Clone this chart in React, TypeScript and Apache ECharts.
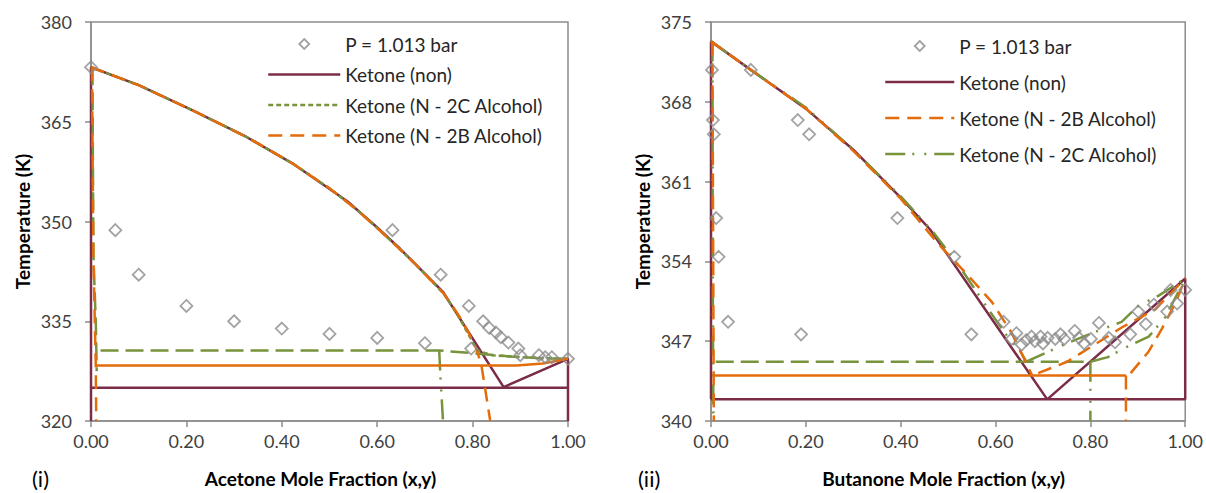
import React, { useEffect, useRef } from 'react';
import * as echarts from 'echarts';

type Pt = [number, number];

// ---------- ticks ----------
const xTickValues = [0, 0.2, 0.4, 0.6, 0.8, 1.0];
const leftYTicks = [320, 335, 350, 365, 380];
const rightYTicks = [340, 347, 354, 361, 368, 375];

// ---------- legend / labels ----------
const expName = 'P = 1.013 bar';
const nonName = 'Ketone (non)';
const twoCName = 'Ketone (N - 2C Alcohol)';
const twoBName = 'Ketone (N - 2B Alcohol)';
const leftXName = 'Acetone Mole Fraction (x,y)';
const rightXName = 'Butanone Mole Fraction (x,y)';
const yName = 'Temperature (K)';

// ---------- (i) Acetone ----------
const leftExp: Pt[] = [
  [0.0, 373.2], [0.051, 348.7], [0.10, 342.0], [0.20, 337.3], [0.30, 335.0],
  [0.40, 333.9], [0.50, 333.1], [0.60, 332.5], [0.70, 331.7], [0.632, 348.7],
  [0.733, 342.0], [0.792, 337.3], [0.797, 330.9], [0.822, 335.0], [0.835, 334.0],
  [0.849, 333.3], [0.859, 332.6], [0.875, 331.8], [0.896, 330.9], [0.90, 329.9],
  [0.939, 329.9], [0.952, 329.6], [0.966, 329.6], [1.0, 329.35],
];
const leftNon: Pt[] = [
  [0, 320], [0, 373.2], [0.1, 370.5], [0.212, 366.75], [0.325, 362.75], [0.422, 358.75],
  [0.538, 353.0], [0.6, 349.1], [0.648, 345.9], [0.738, 339.4], [0.865, 325.1],
  [1, 329.35], [1, 320],
];
const leftNonTie: Pt[] = [[0, 325.0], [1, 325.0]];
const leftGreenDew: Pt[] = [
  [0, 373.2], [0.1, 370.5], [0.212, 366.75], [0.325, 362.75], [0.422, 358.75],
  [0.5, 355.0], [0.56, 351.6], [0.62, 347.7], [0.68, 343.6], [0.74, 339.1],
  [0.765, 336.4], [0.797, 332.3], [0.81, 330.6], [0.84, 329.9], [0.9, 329.6],
  [0.95, 329.45], [1, 329.35],
];
const leftGreenWall: Pt[] = [[0.003, 373.2], [0.005, 345], [0.01, 335], [0.012, 327.5]];
const leftGreenTie: Pt[] = [[0.02, 330.6], [0.73, 330.6], [0.8, 330.2], [0.88, 329.7], [0.95, 329.4], [1, 329.35]];
const leftGreenLLE: Pt[] = [[0.73, 330.6], [0.733, 326], [0.738, 320]];
const leftOrangeDew: Pt[] = [
  [0, 373.2], [0.1, 370.5], [0.212, 366.75], [0.325, 362.75], [0.422, 358.75],
  [0.5, 355.0], [0.56, 351.6], [0.62, 347.7], [0.68, 343.6], [0.74, 339.1],
  [0.77, 336.0], [0.79, 333.5], [0.807, 331.0], [0.818, 328.6], [0.837, 320],
];
const leftOrangeWall: Pt[] = [[0.002, 373.2], [0.005, 345], [0.008, 335], [0.01, 328.35], [0.011, 320]];
const leftOrangeTie: Pt[] = [[0.01, 328.35], [0.892, 328.35], [0.947, 328.65], [1, 329.35]];

// ---------- (ii) Butanone ----------
const rightExp: Pt[] = [
  [0.002, 370.8], [0.084, 370.8], [0.004, 366.4], [0.006, 365.15], [0.183, 366.4],
  [0.207, 365.15], [0.011, 357.8], [0.393, 357.8], [0.016, 354.4], [0.513, 354.4],
  [0.036, 348.7], [0.19, 347.6], [0.549, 347.6], [0.617, 348.7], [0.644, 347.7],
  [0.634, 347.2], [0.655, 346.7], [0.665, 347.1], [0.676, 347.4], [0.683, 347.0],
  [0.695, 347.4], [0.700, 346.8], [0.710, 347.3], [0.726, 347.2], [0.737, 347.6],
  [0.745, 347.2], [0.767, 347.9], [0.776, 347.3], [0.787, 346.8], [0.801, 347.2],
  [0.818, 348.6], [0.839, 347.3], [0.852, 346.9], [0.884, 347.6], [0.901, 349.6],
  [0.917, 348.5], [0.934, 350.2], [0.962, 349.6], [0.969, 351.5], [0.983, 350.3],
  [1.0, 351.5],
];
const rightNon: Pt[] = [
  [0, 341.9], [0, 373.3], [0.084, 370.8], [0.2, 367.4], [0.3, 363.8], [0.4, 359.6],
  [0.462, 356.8], [0.709, 341.9], [1, 352.5], [1, 341.9], [0, 341.9],
];
const rightOrangeDew: Pt[] = [
  [0, 373.3], [0.084, 370.8], [0.2, 367.4], [0.3, 363.7], [0.4, 359.5], [0.48, 355.5],
  [0.537, 353.0], [0.593, 350.4], [0.633, 347.8], [0.653, 346.1], [0.677, 344.0],
];
const rightOrangeWall: Pt[] = [[0.003, 373.3], [0.005, 350], [0.006, 340]];
const rightOrangeTie: Pt[] = [[0.006, 344.0], [0.875, 344.0]];
const rightOrangeLLE: Pt[] = [[0.875, 344.0], [0.875, 340]];
const rightOrangeUpper: Pt[] = [[0.69, 344.2], [0.751, 345.2], [0.809, 346.7], [0.866, 348.2], [0.937, 349.8], [1, 352.5]];
const rightOrangeLower: Pt[] = [[0.885, 344.2], [0.923, 346.1], [0.951, 348.1], [0.98, 350.4], [1, 352.5]];
const rightGreenDew: Pt[] = [
  [0, 373.3], [0.084, 370.8], [0.2, 367.5], [0.3, 363.8], [0.4, 359.7], [0.47, 356.5],
  [0.53, 353.2], [0.58, 350.1], [0.62, 347.7], [0.651, 346.2], [0.665, 345.2],
];
const rightGreenWall: Pt[] = [[0.003, 373.3], [0.004, 350], [0.005, 340]];
const rightGreenTie: Pt[] = [[0.01, 345.2], [0.80, 345.2]];
const rightGreenLLE: Pt[] = [[0.80, 345.2], [0.80, 340]];
const rightGreenUpper: Pt[] = [[0.665, 345.2], [0.686, 345.6], [0.744, 346.7], [0.809, 347.8], [0.866, 348.7], [0.901, 350.1], [0.944, 351.0], [1, 352.5]];
const rightGreenLower: Pt[] = [[0.80, 345.2], [0.837, 345.6], [0.872, 346.4], [0.923, 347.4], [0.958, 349.1], [1, 352.5]];

// ---------- styles ----------
const MAROON = '#7B2C48';
const ORANGE = '#E46C0A';
const GREEN = '#77933C';
const GRAY = '#8c8c8c';
const FONT = 'Lato, "Open Sans", sans-serif';
const LONG_DASH = [14, 8];
const SHORT_DASH = [5, 3];
const GREEN_LONG = [18, 7];
const DASH_DOT_DOT = [20, 7, 2, 10, 2, 8];

function diamondIcon(w: number): string {
  const c = w / 2;
  const svg = `<svg xmlns="http://www.w3.org/2000/svg" width="${w}" height="12" viewBox="0 0 ${w} 12">` +
    `<path d="M${c} 1 L${c + 5} 6 L${c} 11 L${c - 5} 6 Z" fill="none" stroke="${GRAY}" stroke-width="1.8"/></svg>`;
  return 'image://data:image/svg+xml;charset=utf-8,' + encodeURIComponent(svg);
}

function lineSeries(name: string, data: Pt[], color: string, type: any, grid: number, width = 2.5) {
  return {
    type: 'line',
    name,
    data,
    xAxisIndex: grid,
    yAxisIndex: grid,
    symbol: 'none',
    showSymbol: false,
    silent: true,
    lineStyle: { color, width, type, cap: 'butt' },
    itemStyle: { color },
    z: 2,
  };
}

function scatterSeries(data: Pt[], grid: number) {
  return {
    type: 'scatter',
    name: expName,
    data,
    xAxisIndex: grid,
    yAxisIndex: grid,
    symbol: 'diamond',
    symbolSize: 12,
    silent: true,
    itemStyle: { color: 'rgba(255,255,255,0)', borderColor: GRAY, borderWidth: 1.8 },
    z: 5,
  };
}

function xAxis(grid: number, name: string, shift: number) {
  return {
    gridIndex: grid,
    type: 'value',
    min: 0,
    max: 1,
    interval: 0.2,
    name,
    nameLocation: 'middle',
    nameGap: 48,
    nameTextStyle: {
      fontFamily: FONT, fontWeight: 'bold', fontSize: 19, color: '#000',
      padding: [0, shift, 0, 0],
    },
    axisLine: { show: true, lineStyle: { color: GRAY, width: 1.5 } },
    axisTick: { show: true, length: 6, lineStyle: { color: GRAY, width: 1.5 } },
    axisLabel: {
      fontFamily: FONT, fontSize: 18, color: '#404040', margin: 11,
      formatter: (v: number) => v.toFixed(2),
      customValues: xTickValues,
    },
    splitLine: { show: false },
  };
}

function yAxis(grid: number, ticks: number[]) {
  return {
    gridIndex: grid,
    type: 'value',
    min: ticks[0],
    max: ticks[ticks.length - 1],
    name: yName,
    nameLocation: 'middle',
    nameGap: 59,
    nameTextStyle: { fontFamily: FONT, fontWeight: 'bold', fontSize: 19, color: '#000' },
    axisLine: { show: true, lineStyle: { color: GRAY, width: 1.5 } },
    axisTick: { show: true, length: 6, lineStyle: { color: GRAY, width: 1.5 }, customValues: ticks },
    axisLabel: { fontFamily: FONT, fontSize: 18, color: '#404040', margin: 19, customValues: ticks },
    splitLine: { show: false },
  };
}

const hideSym = { opacity: 0 };

export default function App() {
  const ref = useRef<HTMLDivElement>(null);
  useEffect(() => {
    document.body.style.margin = '0';
    if (!ref.current) return;
    const chart = echarts.init(ref.current, undefined, { renderer: 'svg' });
    const legendText = { fontFamily: FONT, fontSize: 19, lineHeight: 20, color: '#262626' };
    chart.setOption({
      animation: false,
      backgroundColor: '#fff',
      grid: [
        { left: 91, top: 22, width: 477, height: 400, show: true, borderColor: GRAY, borderWidth: 1.5 },
        { left: 711, top: 22, width: 478, height: 400, show: true, borderColor: GRAY, borderWidth: 1.5 },
      ],
      xAxis: [xAxis(0, leftXName, 18), xAxis(1, rightXName, 9)],
      yAxis: [yAxis(0, leftYTicks), yAxis(1, rightYTicks)],
      legend: [
        {
          orient: 'vertical', left: 267, top: 34, padding: 0, itemWidth: 72, itemHeight: 12, itemGap: 10.5,
          textStyle: legendText, selectedMode: false,
          data: [
            { name: expName, icon: diamondIcon(72) },
            { name: nonName, itemStyle: hideSym, lineStyle: { color: MAROON, width: 2.5, type: 'solid' } },
            { name: twoCName, itemStyle: hideSym, lineStyle: { color: GREEN, width: 2.5, type: SHORT_DASH } },
            { name: twoBName, itemStyle: hideSym, lineStyle: { color: ORANGE, width: 2.5, type: LONG_DASH } },
          ],
        },
        {
          orient: 'vertical', left: 884, top: 36, padding: 0, itemWidth: 69, itemHeight: 12, itemGap: 16,
          textStyle: legendText, selectedMode: false,
          data: [
            { name: expName, icon: diamondIcon(69) },
            { name: nonName, itemStyle: hideSym, lineStyle: { color: MAROON, width: 2.5, type: 'solid' } },
            { name: twoBName, itemStyle: hideSym, lineStyle: { color: ORANGE, width: 2.5, type: LONG_DASH } },
            { name: twoCName, itemStyle: hideSym, lineStyle: { color: GREEN, width: 2.5, type: DASH_DOT_DOT } },
          ],
        },
      ],
      graphic: [
        { type: 'text', left: 32, top: 467, style: { text: '(i)', font: `22px ${FONT}`, fill: '#000' } },
        { type: 'text', left: 638, top: 467, style: { text: '(ii)', font: `22px ${FONT}`, fill: '#000' } },
      ],
      series: [
        // left
        lineSeries(nonName, leftNon, MAROON, 'solid', 0),
        lineSeries('non tie (i)', leftNonTie, MAROON, 'solid', 0),
        lineSeries(twoCName, leftGreenDew, GREEN, SHORT_DASH, 0),
        lineSeries('2C wall (i)', leftGreenWall, GREEN, GREEN_LONG, 0),
        lineSeries('2C tie (i)', leftGreenTie, GREEN, GREEN_LONG, 0),
        lineSeries('2C LLE (i)', leftGreenLLE, GREEN, DASH_DOT_DOT, 0),
        lineSeries(twoBName, leftOrangeDew, ORANGE, LONG_DASH, 0),
        lineSeries('2B wall (i)', leftOrangeWall, ORANGE, LONG_DASH, 0),
        lineSeries('2B tie (i)', leftOrangeTie, ORANGE, 'solid', 0),
        scatterSeries(leftExp, 0),
        // right
        lineSeries(nonName, rightNon, MAROON, 'solid', 1),
        lineSeries(twoCName, rightGreenDew, GREEN, DASH_DOT_DOT, 1),
        lineSeries('2C wall (ii)', rightGreenWall, GREEN, DASH_DOT_DOT, 1),
        lineSeries('2C tie (ii)', rightGreenTie, GREEN, GREEN_LONG, 1),
        lineSeries('2C LLE (ii)', rightGreenLLE, GREEN, DASH_DOT_DOT, 1),
        lineSeries('2C upper (ii)', rightGreenUpper, GREEN, DASH_DOT_DOT, 1),
        lineSeries('2C lower (ii)', rightGreenLower, GREEN, DASH_DOT_DOT, 1),
        lineSeries(twoBName, rightOrangeDew, ORANGE, LONG_DASH, 1),
        lineSeries('2B wall (ii)', rightOrangeWall, ORANGE, LONG_DASH, 1),
        lineSeries('2B tie (ii)', rightOrangeTie, ORANGE, 'solid', 1),
        lineSeries('2B LLE (ii)', rightOrangeLLE, ORANGE, LONG_DASH, 1),
        lineSeries('2B upper (ii)', rightOrangeUpper, ORANGE, LONG_DASH, 1),
        lineSeries('2B lower (ii)', rightOrangeLower, ORANGE, LONG_DASH, 1),
        scatterSeries(rightExp, 1),
      ],
    });
    return () => chart.dispose();
  }, []);
  return <div ref={ref} style={{ width: 1206, height: 493 }} />;
}
